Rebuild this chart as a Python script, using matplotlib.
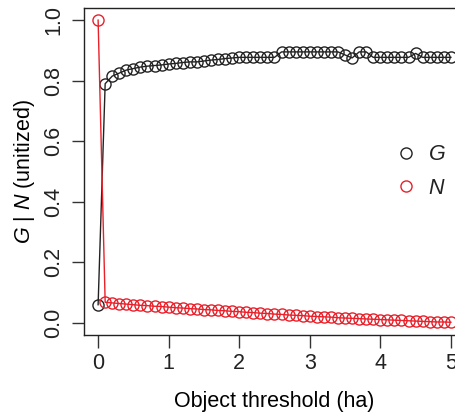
import numpy as np
import matplotlib.pyplot as plt

plt.rcParams['font.family'] = ['Liberation Sans', 'DejaVu Sans']
plt.rcParams['mathtext.fontset'] = 'custom'
plt.rcParams['mathtext.it'] = 'Liberation Sans:italic'
plt.rcParams['mathtext.rm'] = 'Liberation Sans'
plt.rcParams['text.color'] = '#222222'
plt.rcParams['xtick.labelcolor'] = '#222222'
plt.rcParams['ytick.labelcolor'] = '#222222'

# object threshold (ha)
threshold = [0.0, 0.1, 0.2, 0.3, 0.4, 0.5, 0.6, 0.7, 0.8, 0.9,
             1.0, 1.1, 1.2, 1.3, 1.4, 1.5, 1.6, 1.7, 1.8, 1.9,
             2.0, 2.1, 2.2, 2.3, 2.4, 2.5, 2.6, 2.7, 2.8, 2.9,
             3.0, 3.1, 3.2, 3.3, 3.4, 3.5, 3.6, 3.7, 3.8, 3.9,
             4.0, 4.1, 4.2, 4.3, 4.4, 4.5, 4.6, 4.7, 4.8, 4.9, 5.0]

# G (unitized)
g_vals = [0.06, 0.79, 0.815, 0.825, 0.835, 0.84, 0.845, 0.848, 0.85, 0.852,
          0.855, 0.857, 0.86, 0.862, 0.862, 0.865, 0.868, 0.87, 0.873, 0.875,
          0.877, 0.877, 0.877, 0.877, 0.877, 0.877, 0.895, 0.895, 0.895, 0.895,
          0.895, 0.895, 0.895, 0.895, 0.895, 0.885, 0.875, 0.895, 0.895, 0.877,
          0.877, 0.877, 0.877, 0.877, 0.877, 0.89, 0.877, 0.877, 0.877, 0.877, 0.877]

# N (unitized)
n_vals = [1.0, 0.068, 0.066, 0.064, 0.062, 0.06, 0.058, 0.057, 0.055, 0.054,
          0.052, 0.05, 0.049, 0.047, 0.046, 0.044, 0.043, 0.041, 0.04, 0.038,
          0.037, 0.035, 0.034, 0.032, 0.031, 0.029, 0.028, 0.026, 0.025, 0.024,
          0.022, 0.021, 0.02, 0.019, 0.017, 0.016, 0.015, 0.014, 0.013, 0.012,
          0.011, 0.01, 0.009, 0.008, 0.007, 0.006, 0.005, 0.004, 0.003, 0.003, 0.002]

fig = plt.figure(figsize=(4.56, 4.12), dpi=100)
ax = fig.add_axes([84 / 456, 77 / 412, 381 / 456, 327 / 412])

ax.plot(threshold, g_vals, '-o', color='#222222', lw=1, ms=8,
        mfc='none', mew=1, label=r'$\it{G}$')
ax.plot(threshold, n_vals, '-o', color='#e8202a', lw=1, ms=8,
        mfc='none', mew=1, label=r'$\it{N}$')

ax.set_xlim(-0.2, 5.2)
ax.set_ylim(-0.04, 1.04)
ax.set_xticks([0, 1, 2, 3, 4, 5])
ax.set_yticks([0.0, 0.2, 0.4, 0.6, 0.8, 1.0])
ax.set_yticklabels(['0.0', '0.2', '0.4', '0.6', '0.8', '1.0'],
                   rotation=90, va='center')
ax.tick_params(length=9, width=1, labelsize=15.5, color='#333333')
ax.tick_params(axis='y', pad=5)
ax.tick_params(axis='x', pad=4)
for s in ax.spines.values():
    s.set_linewidth(1)
    s.set_color('#222222')

ax.set_xlabel('Object threshold (ha)', fontsize=15.5, labelpad=12)
ax.set_ylabel(r'$\it{G}$ | $\it{N}$ (unitized)', fontsize=15.5, labelpad=5)

ax.legend(loc='center left', bbox_to_anchor=(0.795, 0.5), frameon=False,
          fontsize=15.5, handlelength=0, handletextpad=1.0, labelspacing=0.6,
          markerscale=1.0)

fig.savefig('out.png', dpi=100)
